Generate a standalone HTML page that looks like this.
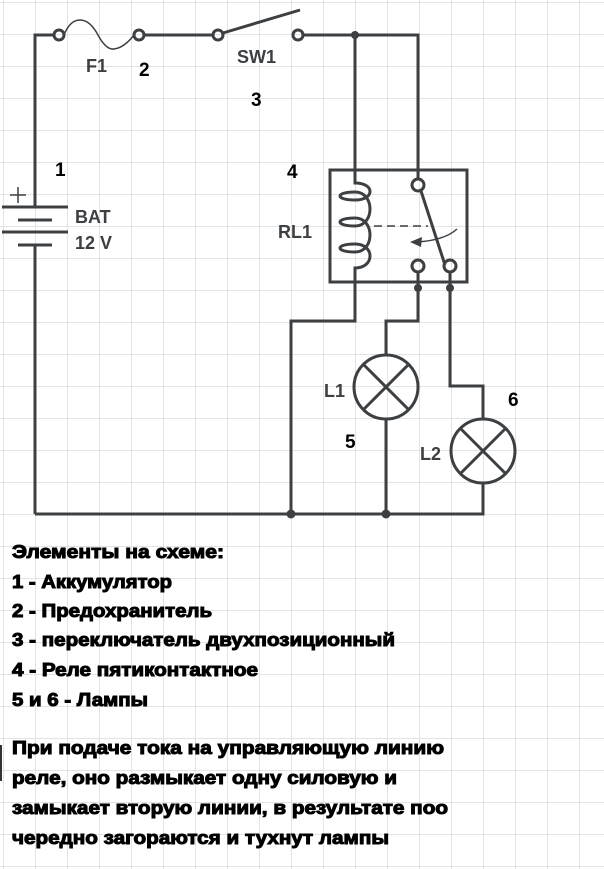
<!DOCTYPE html>
<html><head><meta charset="utf-8"><style>
html,body{margin:0;padding:0;background:#fff}
svg{display:block}
.w{stroke:#3c4043;stroke-width:3;fill:none}
.lab{font-family:"Liberation Sans",sans-serif;font-weight:bold;font-size:18px;fill:#3c4043}
.num{font-family:"Liberation Sans",sans-serif;font-weight:bold;font-size:19px;fill:#000}
.t{font-family:"Liberation Sans",sans-serif;font-weight:bold;font-size:18px;fill:#000;stroke:#000;stroke-width:1}
</style></head><body>
<svg width="604" height="869" viewBox="0 0 604 869" xmlns="http://www.w3.org/2000/svg">
<defs><pattern id="g" x="3" y="2" width="32" height="32" patternUnits="userSpaceOnUse">
<path d="M0,0 V32 M0,0 H32" stroke="#e3e3e3" stroke-width="2" fill="none"/></pattern></defs>
<rect width="604" height="869" fill="url(#g)"/>
<path class="w" d="M35,207 V35 H54 M144,35 H213 M303,35 H418 V179"/>
<path class="w" d="M223,33 L300,10"/>
<circle class="w" cx="59" cy="35" r="5"/>
<circle class="w" cx="139" cy="35" r="5"/>
<circle class="w" cx="218" cy="35" r="5"/>
<circle class="w" cx="298" cy="35" r="5"/>
<path d="M64,35 Q70,20 80,20 Q90,20 98,35 Q106,50 114,49 Q124,48 134,35" stroke="#3c4043" stroke-width="1.5" fill="none"/>
<circle cx="355" cy="35" r="4" fill="#3c4043"/>
<path class="w" d="M2,207 H68 M18,220 H52 M2,232 H68 M18,245 H52 M35,245 V514"/>
<path d="M10,195 H26 M18,187 V203" stroke="#3c4043" stroke-width="1.5"/>
<rect class="w" x="330" y="170" width="137" height="112"/>
<path class="w" d="M355,35 V183 C375,183 375,200 355,200 C335,200 335,192 355,192 C375,192 375,226 355,226 C335,226 335,218 355,218 C375,218 375,252 355,252 C335,252 335,244 355,244 C375,244 375,268 355,268 V321 H291 V514"/>
<circle class="w" cx="418" cy="185" r="6"/>
<circle class="w" cx="418" cy="266" r="6"/>
<circle class="w" cx="450" cy="266" r="6"/>
<path class="w" d="M421,191 L445,265"/>
<path d="M374,226 H428" stroke="#3c4043" stroke-width="1.5" stroke-dasharray="8,5"/>
<path d="M457,229 Q445,240 418,242" stroke="#3c4043" stroke-width="1.5" fill="none"/>
<path d="M410,242 L422,237 L421,247 Z" fill="#3c4043"/>
<path class="w" d="M418,272 V321 H386 V355 M386,419 V514 M450,272 V386 H483 V419 M483,483 V514 H35"/>
<circle cx="418" cy="288" r="4" fill="#3c4043"/>
<circle cx="450" cy="288" r="4" fill="#3c4043"/>
<circle cx="291" cy="514" r="4.5" fill="#3c4043"/>
<circle cx="386" cy="514" r="4.5" fill="#3c4043"/>
<circle class="w" cx="386" cy="387" r="32"/>
<path class="w" d="M363,364 L409,410 M409,364 L363,410"/>
<circle class="w" cx="483" cy="451" r="32"/>
<path class="w" d="M460,428 L506,474 M506,428 L460,474"/>
<text class="lab" x="86" y="72">F1</text>
<text class="lab" x="237" y="63">SW1</text>
<text class="lab" x="75" y="223">BAT</text>
<text class="lab" x="75" y="249">12 V</text>
<text class="lab" x="278" y="238">RL1</text>
<text class="lab" x="324" y="397">L1</text>
<text class="lab" x="420" y="460">L2</text>
<text class="num" x="139" y="76">2</text>
<text class="num" x="251" y="106">3</text>
<text class="num" x="55" y="176">1</text>
<text class="num" x="287" y="178">4</text>
<text class="num" x="345" y="448">5</text>
<text class="num" x="508" y="406">6</text>
<text class="t" x="12" y="558" textLength="212" lengthAdjust="spacingAndGlyphs">Элементы на схеме:</text>
<text class="t" x="12" y="588" textLength="160" lengthAdjust="spacingAndGlyphs">1 - Аккумулятор</text>
<text class="t" x="12" y="617" textLength="200" lengthAdjust="spacingAndGlyphs">2 - Предохранитель</text>
<text class="t" x="12" y="646" textLength="383" lengthAdjust="spacingAndGlyphs">3 - переключатель двухпозиционный</text>
<text class="t" x="12" y="676" textLength="246" lengthAdjust="spacingAndGlyphs">4 - Реле пятиконтактное</text>
<text class="t" x="12" y="706" textLength="136" lengthAdjust="spacingAndGlyphs">5 и 6 - Лампы</text>
<rect x="0" y="745" width="2" height="36" fill="#333"/>
<text class="t" x="12" y="754" textLength="432" lengthAdjust="spacingAndGlyphs">При подаче тока на управляющую линию</text>
<text class="t" x="12" y="784" textLength="385" lengthAdjust="spacingAndGlyphs">реле, оно размыкает одну силовую и</text>
<text class="t" x="12" y="814" textLength="436" lengthAdjust="spacingAndGlyphs">замыкает вторую линии, в результате поо</text>
<text class="t" x="12" y="844" textLength="377" lengthAdjust="spacingAndGlyphs">чередно загораются и тухнут лампы</text>
</svg>
</body></html>
